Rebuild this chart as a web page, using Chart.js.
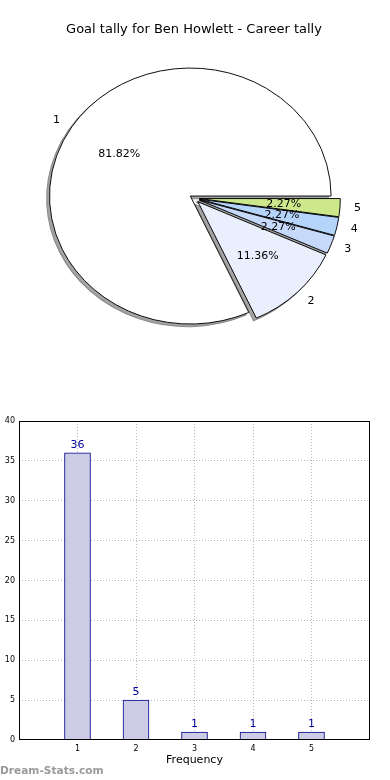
<!DOCTYPE html>
<html>
<head>
<meta charset="utf-8">
<script src="https://cdn.jsdelivr.net/npm/chart.js@4.4.1/dist/chart.umd.min.js"></script>
<style>
  html, body { margin: 0; padding: 0; background: #fff; }
  #wrap { position: relative; width: 390px; height: 780px; overflow: hidden; }
  #pie { position: absolute; left: 0; top: 0; }
  #bar { position: absolute; left: 0; top: 400px; }
  #wm { position: absolute; left: 0; top: 764px; font: bold 10.6px "DejaVu Sans", sans-serif; color: #9a9a9a; }
</style>
</head>
<body>
<div id="wrap">
  <canvas id="pie" width="390" height="400"></canvas>
  <canvas id="bar" width="390" height="380"></canvas>
  <div id="wm">Dream-Stats.com</div>
</div>
<script>
// ---- data ----
const chartTitle = 'Goal tally for Ben Howlett - Career tally';
const categories = ['1', '2', '3', '4', '5'];
const categoryValues = [1, 2, 3, 4, 5];
const goalCounts = [36, 5, 1, 1, 1];
const sliceColors = ['#ffffff', '#e9effd', '#c6d9fb', '#b4d4fa', '#cce88b'];
const sliceExplode = [4, 5, 5, 5, 5];
const xAxisTitle = 'Frequency';
const yTicksMax = 40;
const yTicksStep = 5;

// pie is drawn clockwise from 3 o'clock, so reverse order to mimic counter-clockwise
const pieLabels = categories.slice().reverse();
const pieValues = goalCounts.slice().reverse();
const pieColors = sliceColors.slice().reverse();
const pieExplode = sliceExplode.slice().reverse();
const total = goalCounts.reduce((a, b) => a + b, 0);

const SX = 1.10;              // ellipse stretch (x / y)
const SHX = -2.8, SHY = 2.6;  // shadow offset in px
const FONT = '"DejaVu Sans", sans-serif';

const pieFx = {
  id: 'pieFx',
  beforeDatasetDraw(chart, args) {
    const ctx = chart.ctx;
    const arcs = args.meta.data;
    const cx = arcs[0].x, cy = arcs[0].y;
    ctx.save();
    ctx.translate(cx, cy); ctx.scale(SX, 1); ctx.translate(-cx, -cy);
    arcs.forEach((arc, i) => {
      const mid = (arc.startAngle + arc.endAngle) / 2;
      const e = pieExplode[i];
      ctx.save();
      ctx.translate(e * Math.cos(mid) + SHX / SX, e * Math.sin(mid) + SHY);
      ctx.beginPath();
      ctx.moveTo(arc.x, arc.y);
      ctx.arc(arc.x, arc.y, arc.outerRadius, arc.startAngle, arc.endAngle);
      ctx.closePath();
      ctx.fillStyle = '#a4a4a4';
      ctx.fill();
      ctx.lineWidth = 1;
      ctx.strokeStyle = '#8a8a8a';
      ctx.stroke();
      ctx.restore();
    });
    arcs.forEach((arc, i) => {
      const mid = (arc.startAngle + arc.endAngle) / 2;
      const e = pieExplode[i];
      ctx.save();
      ctx.translate(e * Math.cos(mid), e * Math.sin(mid));
      arc.draw(ctx);
      ctx.restore();
    });
    ctx.restore();
    return false;
  },
  afterDatasetsDraw(chart) {
    const ctx = chart.ctx;
    const arcs = chart.getDatasetMeta(0).data;
    ctx.save();
    ctx.font = '11px ' + FONT;
    ctx.fillStyle = '#000';
    ctx.textBaseline = 'middle';
    arcs.forEach((arc, i) => {
      const mid = (arc.startAngle + arc.endAngle) / 2;
      const e = pieExplode[i];
      const r = arc.outerRadius;
      const ex = arc.x + SX * e * Math.cos(mid);
      const ey = arc.y + e * Math.sin(mid);
      const c = Math.cos(mid), s = Math.sin(mid);
      ctx.textAlign = 'center';
      const pct = (pieValues[i] / total * 100).toFixed(2) + '%';
      ctx.fillText(pct, ex + SX * 0.6 * r * c, ey + 0.6 * r * s);
      ctx.textAlign = c >= 0 ? 'left' : 'right';
      ctx.fillText(pieLabels[i], ex + SX * 1.1 * r * c, ey + 1.1 * r * s);
    });
    ctx.restore();
  }
};

new Chart(document.getElementById('pie'), {
  type: 'pie',
  data: {
    labels: pieLabels,
    datasets: [{
      data: pieValues,
      backgroundColor: pieColors,
      borderColor: '#000',
      borderWidth: 0.9
    }]
  },
  options: {
    responsive: false,
    animation: false,
    rotation: 90,
    radius: 128,
    layout: { padding: { left: 0, right: 2, top: 0, bottom: 41.2 } },
    plugins: {
      legend: { display: false },
      tooltip: { enabled: false },
      title: {
        display: true,
        text: chartTitle,
        color: '#000',
        font: { family: FONT, size: 13, weight: 'normal', lineHeight: 1.2 },
        padding: { top: 22, bottom: 0 }
      }
    }
  },
  plugins: [pieFx]
});

// ---- bar chart ----
const frame = {
  id: 'frame',
  afterDatasetsDraw(chart) {
    const { ctx, chartArea: a } = chart;
    ctx.save();
    ctx.strokeStyle = '#000';
    ctx.lineWidth = 1;
    ctx.strokeRect(Math.round(a.left) + 0.5, Math.round(a.top) + 0.5,
                   Math.round(a.right - a.left) - 1, Math.round(a.bottom - a.top) - 1);
    ctx.restore();
  }
};
const barLabels = {
  id: 'barLabels',
  afterDatasetsDraw(chart) {
    const ctx = chart.ctx;
    const meta = chart.getDatasetMeta(0);
    ctx.save();
    ctx.font = '11px ' + FONT;
    ctx.fillStyle = '#0000a0';
    ctx.textAlign = 'center';
    ctx.textBaseline = 'bottom';
    meta.data.forEach((bar, i) => {
      ctx.fillText(String(goalCounts[i]), bar.x, bar.y - 2);
    });
    ctx.restore();
  }
};

new Chart(document.getElementById('bar'), {
  type: 'bar',
  data: {
    datasets: [{
      data: categoryValues.map((x, i) => ({ x: x, y: goalCounts[i] })),
      backgroundColor: 'rgb(204,204,228)',
      borderColor: '#00008b',
      borderWidth: 1,
      barThickness: 26
    }]
  },
  options: {
    responsive: false,
    animation: false,
    layout: { padding: { left: 0, right: 20, top: 21, bottom: 0 } },
    plugins: { legend: { display: false }, tooltip: { enabled: false } },
    scales: {
      x: {
        type: 'linear',
        min: 0, max: categoryValues.length + 1,
        offset: false,
        grid: {
          offset: false,
          drawTicks: false,
          color: (c) => (c.tick && c.tick.value >= 1 && c.tick.value <= categoryValues.length) ? '#b8b8b8' : 'rgba(0,0,0,0)',
          lineWidth: 1
        },
        border: { display: false, dash: [1, 2] },
        ticks: {
          stepSize: 1,
          padding: 4,
          color: '#000',
          font: { family: FONT, size: 8 },
          callback: (v) => { const k = categoryValues.indexOf(v); return k >= 0 ? categories[k] : ''; }
        },
        title: {
          display: true,
          text: xAxisTitle,
          color: '#000',
          font: { family: FONT, size: 11, lineHeight: 1.2 },
          padding: { top: 0, bottom: 13.4 }
        },
        afterFit: (s) => { s.height = 40; }
      },
      y: {
        min: 0, max: yTicksMax,
        grid: {
          drawTicks: false,
          color: (c) => (c.tick && c.tick.value > 0 && c.tick.value < yTicksMax) ? '#b8b8b8' : 'rgba(0,0,0,0)',
          lineWidth: 1
        },
        border: { display: false, dash: [1, 2] },
        ticks: {
          stepSize: yTicksStep,
          padding: 4,
          color: '#000',
          font: { family: FONT, size: 8 }
        },
        afterFit: (s) => { s.width = 19; }
      }
    }
  },
  plugins: [frame, barLabels]
});
</script>
</body>
</html>
